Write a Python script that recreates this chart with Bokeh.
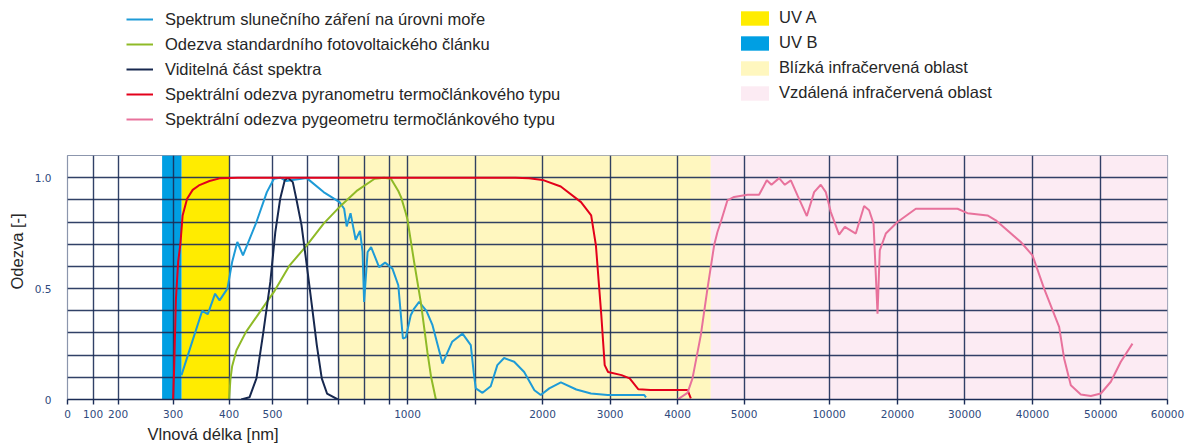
from bokeh.plotting import figure
from bokeh.layouts import column
from bokeh.models import (ColumnDataSource, CustomJSTransform, FixedTicker, Legend, LegendItem,
                          Range1d, CustomJSTickFormatter, Title)
from bokeh.transform import transform
from bokeh.embed import file_html
from bokeh.resources import INLINE

# ---- axis scale definition: wavelength [nm] -> position along the (non-uniform) axis
AXIS_WL = [0, 100, 200, 300, 400, 500, 600, 700, 800, 900, 1000, 1500, 2000, 3000, 4000,
           5000, 10000, 20000, 30000, 40000, 50000, 60000]
AXIS_POS = [0, 25.6, 50.6, 105.6, 161.6, 205, 240, 271, 296.6, 321.6, 340, 407.6, 475,
            542.6, 610, 676.6, 761.6, 830, 897.3, 965, 1033.3, 1100]
AXIS_LABELS = ["0", "100", "200", "300", "400", "500", "", "", "", "", "1000", "", "2000",
               "3000", "4000", "5000", "10000", "20000", "30000", "40000", "50000", "60000"]
Y_GRID = [0.0, 0.1, 0.2, 0.3, 0.4, 0.5, 0.6, 0.7, 0.8, 0.9, 1.0]
Y_TICKS = [0.0, 0.5, 1.0]
Y_TICK_LABELS = ["0", "0.5", "1.0"]

# ---- spectral regions
BAND_NAMES = ["UV A", "UV B", "Blízká infračervená oblast", "Vzdálená infračervená oblast"]
BAND_FROM = [315, 280, 700, 4500]
BAND_TO = [400, 315, 4500, 60000]

# ---- curves (wavelength nm, relative response)
SOLAR_WL = [315, 334, 352, 362, 375, 383, 397, 407, 419, 432, 463, 487, 504, 522, 540, 557, 598,
            652, 704, 722, 732, 747, 767, 784, 794, 800, 814, 828, 860, 884, 918, 950, 975, 991,
            1024, 1049, 1086, 1140, 1185, 1259, 1330, 1407, 1468, 1490, 1505, 1555, 1616, 1665,
            1715, 1790, 1864, 1940, 1987, 2100, 2272, 2500, 2717, 2964, 3507, 3533]
SOLAR_V = [0.11, 0.26, 0.40, 0.385, 0.477, 0.447, 0.50, 0.62, 0.71, 0.65, 0.80, 0.935, 0.995, 1.0,
           0.985, 0.99, 0.998, 0.935, 0.89, 0.86, 0.78, 0.84, 0.72, 0.76, 0.665, 0.44, 0.665, 0.687,
           0.597, 0.617, 0.59, 0.515, 0.275, 0.28, 0.38, 0.41, 0.44, 0.40, 0.335, 0.162, 0.26,
           0.297, 0.245, 0.12, 0.05, 0.03, 0.06, 0.155, 0.187, 0.17, 0.124, 0.042, 0.02, 0.05,
           0.077, 0.045, 0.027, 0.02, 0.02, 0.01]

PV_WL = [400, 403, 407, 417, 439, 471, 504, 549, 598, 652, 710, 774, 842, 880, 910, 950, 966,
         991, 1000, 1049, 1098, 1148, 1175, 1210]
PV_V = [0.0, 0.09, 0.15, 0.222, 0.305, 0.395, 0.485, 0.605, 0.695, 0.793, 0.875, 0.943, 0.995,
        1.0, 0.995, 0.94, 0.91, 0.84, 0.81, 0.62, 0.44, 0.21, 0.1, 0.0]

VIS_WL = [428, 447, 463, 479, 495, 508, 522, 535, 544, 558, 568, 583, 598, 614, 630, 646, 663, 698]
VIS_V = [0.0, 0.01, 0.095, 0.305, 0.53, 0.755, 0.905, 0.988, 1.0, 0.98, 0.905, 0.785, 0.605,
         0.425, 0.245, 0.095, 0.027, 0.0]

PYR_WL = [300, 302, 305, 309, 313, 317, 325, 335, 346, 365, 383, 420, 1800, 1900, 2000, 2270,
          2570, 2720, 2790, 2870, 2920, 2970, 3170, 3290, 3420, 3600, 4150, 4200]
PYR_V = [0.0, 0.15, 0.45, 0.62, 0.70, 0.83, 0.905, 0.945, 0.965, 0.985, 0.997, 1.0, 1.0, 0.997,
         0.99, 0.96, 0.89, 0.83, 0.695, 0.38, 0.155, 0.124, 0.11, 0.095, 0.046, 0.043, 0.043, 0.005]

PYG_WL = [4000, 4150, 4225, 4350, 4450, 4550, 4600, 4650, 4750, 4850, 5200, 5880, 6335, 6610,
          7060, 7395, 7750, 8140, 8690, 9120, 9510, 9805, 10250, 11460, 12300, 13900, 15120,
          15850, 16500, 16680, 17080, 17410, 18290, 20000, 22720, 28920, 30400, 33350, 34580,
          38270, 40000, 41700, 43900, 44630, 45610, 47070, 48540, 50000, 51500, 53000, 54750]
PYG_V = [0.0, 0.03, 0.095, 0.29, 0.5, 0.695, 0.755, 0.80, 0.898, 0.913, 0.923, 0.923, 0.988,
         0.968, 0.998, 0.968, 0.988, 0.92, 0.827, 0.935, 0.968, 0.935, 0.845, 0.743, 0.778,
         0.748, 0.872, 0.853, 0.793, 0.665, 0.387, 0.672, 0.748, 0.80, 0.86, 0.86, 0.84, 0.83,
         0.808, 0.71, 0.65, 0.50, 0.327, 0.185, 0.064, 0.023, 0.016, 0.027, 0.08, 0.17, 0.252]

SERIES = [
    ("Spektrum slunečního záření na úrovni moře", SOLAR_WL, SOLAR_V, "#1e9bd7"),
    ("Odezva standardního fotovoltaického článku", PV_WL, PV_V, "#8fba27"),
    ("Viditelná část spektra", VIS_WL, VIS_V, "#17284f"),
    ("Spektrální odezva pyranometru termočlánkového typu", PYR_WL, PYR_V, "#e3001b"),
    ("Spektrální odezva pygeometru termočlánkového typu", PYG_WL, PYG_V, "#e8729c"),
]
BAND_COLORS = ["#ffec00", "#009fe3", "#fff7bf", "#fcebf3"]

GRID = "#1b2c56"
TICK_TXT = "#2f4a7d"
TXT = "#262626"
FONT = "Liberation Sans"

# piecewise wavelength -> axis mapping done by the browser
wl2ax = CustomJSTransform(
    args=dict(wl=AXIS_WL, pos=AXIS_POS),
    func="""
let j = 0;
while (j < wl.length - 2 && x > wl[j + 1]) j++;
return pos[j] + (x - wl[j]) * (pos[j + 1] - pos[j]) / (wl[j + 1] - wl[j]);
""",
    v_func="""
const out = new Array(xs.length);
for (let i = 0; i < xs.length; i++) {
  const x = xs[i];
  let j = 0;
  while (j < wl.length - 2 && x > wl[j + 1]) j++;
  out[i] = pos[j] + (x - wl[j]) * (pos[j + 1] - pos[j]) / (wl[j + 1] - wl[j]);
}
return out;
""")

LEG_H = 153
FRAME_LEFT = 67

# ================= legend strip (top) =================
# same series drawn here too, but the y range sits above the data so only the legend shows
lf = figure(width=1186, height=LEG_H, x_range=Range1d(0, 1100), y_range=Range1d(5, 6),
            output_backend="svg", toolbar_location=None, x_axis_location=None,
            y_axis_location=None, min_border_left=0, min_border_right=0, min_border_top=0,
            min_border_bottom=0)
lf.xgrid.visible = False
lf.ygrid.visible = False
lf.outline_line_color = None
lf.background_fill_color = "white"
lf.border_fill_color = "white"

line_items = []
for name, xs, ys, col in SERIES:
    src = ColumnDataSource(dict(wl=xs, v=ys))
    r = lf.line(x=transform("wl", wl2ax), y="v", source=src, line_color=col, line_width=2)
    line_items.append(LegendItem(label=name, renderers=[r]))
lbands = ColumnDataSource(dict(left=BAND_FROM, right=BAND_TO, color=BAND_COLORS))
lb = lf.quad(left=transform("left", wl2ax), right=transform("right", wl2ax), bottom=0, top=1.1,
             fill_color="color", line_color=None, source=lbands)
band_items = [LegendItem(label=n, renderers=[lb], index=i) for i, n in enumerate(BAND_NAMES)]

leg1 = Legend(items=line_items, location=(126 - FRAME_LEFT, LEG_H - 129), orientation="vertical",
              glyph_width=27, glyph_height=20, label_height=20, spacing=5, padding=0, margin=0,
              label_standoff=12, border_line_color=None, background_fill_alpha=0,
              label_text_font=FONT, label_text_font_size="16.5px", label_text_color=TXT)
leg2 = Legend(items=band_items, location=(737 - FRAME_LEFT, LEG_H - 102), orientation="vertical",
              glyph_width=35, glyph_height=18, label_height=18, spacing=6, padding=0, margin=0,
              label_standoff=7, border_line_color=None, background_fill_alpha=0,
              label_text_font=FONT, label_text_font_size="16.5px", label_text_color=TXT)
lf.add_layout(leg1)
lf.add_layout(leg2)

# ================= chart =================
p = figure(width=1186, height=445 - LEG_H, x_range=Range1d(0, 1100), y_range=Range1d(0, 1.1),
           output_backend="svg", toolbar_location=None,
           min_border_left=FRAME_LEFT, min_border_right=19, min_border_top=2, min_border_bottom=46)
p.background_fill_color = "white"
p.border_fill_color = "white"
p.outline_line_color = "#8c96ad"
p.outline_line_width = 1.2

bands = ColumnDataSource(dict(left=BAND_FROM, right=BAND_TO, color=BAND_COLORS, name=BAND_NAMES))
p.quad(left=transform("left", wl2ax), right=transform("right", wl2ax), bottom=0, top=1.1,
       fill_color="color", line_color=None, source=bands, level="image")

p.xgrid.ticker = FixedTicker(ticks=AXIS_POS)
p.ygrid.ticker = FixedTicker(ticks=Y_GRID)
for g in (p.xgrid, p.ygrid):
    g.grid_line_color = GRID
    g.grid_line_width = 1.4
    g.grid_line_alpha = 0.9

xa = p.xaxis[0]
xa.ticker = FixedTicker(ticks=AXIS_POS)
xa.formatter = CustomJSTickFormatter(args=dict(pos=AXIS_POS, labels=AXIS_LABELS), code="""
const i = pos.findIndex(v => Math.abs(v - tick) < 1e-6);
return i >= 0 ? labels[i] : "";
""")
xa.axis_line_color = GRID
xa.axis_line_width = 1.4
xa.major_tick_line_color = GRID
xa.major_tick_line_width = 1.4
xa.major_tick_out = 5
xa.major_tick_in = 0
xa.minor_tick_line_color = None
xa.minor_tick_out = 0
xa.major_label_standoff = 5
xa.major_label_text_font = "DejaVu Sans"
xa.major_label_text_font_size = "10.5px"
xa.major_label_text_color = TICK_TXT

ya = p.yaxis[0]
ya.ticker = FixedTicker(ticks=Y_TICKS)
ya.formatter = CustomJSTickFormatter(args=dict(pos=Y_TICKS, labels=Y_TICK_LABELS), code="""
const i = pos.findIndex(v => Math.abs(v - tick) < 1e-6);
return i >= 0 ? labels[i] : "";
""")
ya.axis_line_color = None
ya.major_tick_line_color = None
ya.minor_tick_line_color = None
ya.major_tick_out = 0
ya.major_tick_in = 0
ya.minor_tick_out = 0
ya.major_label_standoff = 16
ya.major_label_text_font = "DejaVu Sans"
ya.major_label_text_font_size = "10.5px"
ya.major_label_text_color = TICK_TXT

for name, xs, ys, col in SERIES:
    src = ColumnDataSource(dict(wl=xs, v=ys))
    p.line(x=transform("wl", wl2ax), y="v", source=src, line_color=col, line_width=2)

p.add_layout(Title(text="Vlnová délka [nm]", align="left", offset=80, standoff=4,
                   text_font=FONT, text_font_size="16.5px", text_font_style="normal",
                   text_color=TXT), "below")
p.add_layout(Title(text="Odezva [-]", align="left", offset=110, standoff=11,
                   text_font=FONT, text_font_size="16.5px", text_font_style="normal",
                   text_color=TXT), "left")

open("out.html", "w").write(file_html(column(lf, p, spacing=0), INLINE))
